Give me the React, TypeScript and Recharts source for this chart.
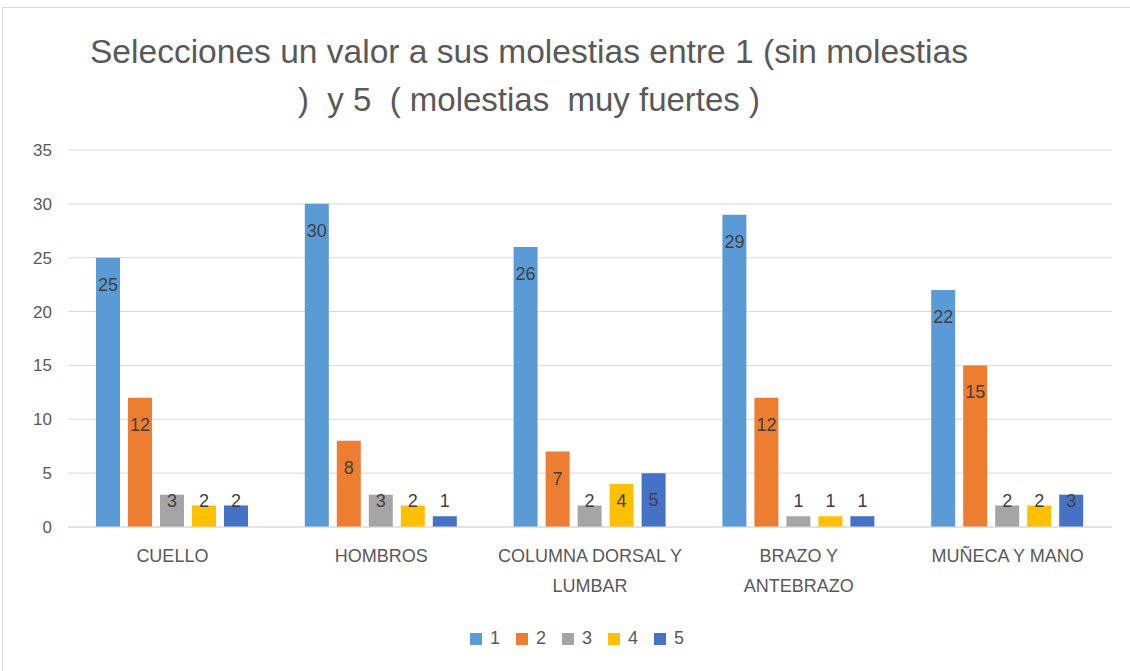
import React from 'react';
import { BarChart, Bar, XAxis, YAxis, CartesianGrid, Legend, LabelList } from 'recharts';

const categories = ['CUELLO', 'HOMBROS', 'COLUMNA DORSAL Y\nLUMBAR', 'BRAZO Y\nANTEBRAZO', 'MUÑECA Y MANO'];
const seriesNames = ['1', '2', '3', '4', '5'];
const seriesColors = ['#5B9BD5', '#ED7D31', '#A5A5A5', '#FFC000', '#4472C4'];
const values1 = [25, 30, 26, 29, 22];
const values2 = [12, 8, 7, 12, 15];
const values3 = [3, 3, 2, 1, 2];
const values4 = [2, 2, 4, 1, 2];
const values5 = [2, 1, 5, 1, 3];
const yTicks = [0, 5, 10, 15, 20, 25, 30, 35];
const titleLines = ['Selecciones un valor a sus molestias entre 1 (sin molestias', ')  y 5  ( molestias  muy fuertes )'];

const allValues = [values1, values2, values3, values4, values5];

const chartData = categories.map((name, i) => {
  const row: Record<string, string | number> = { name };
  seriesNames.forEach((s, j) => {
    row['s' + s] = allValues[j][i];
  });
  return row;
});

const FONT = "'Liberation Sans Narrow', 'Liberation Sans', Arial, sans-serif";

// Excel-like "inside end" label: sits below the bar top, but never lower than near the baseline
const BarValueLabel = (props: any) => {
  const { x, y, width, height, value } = props;
  const bottom = y + height;
  const cy = Math.min(y + 27, bottom - 26);
  return (
    <text
      x={x + width / 2}
      y={cy}
      textAnchor="middle"
      dominantBaseline="central"
      fill="#404040"
      fontSize={18}
      fontFamily={FONT}
    >
      {value}
    </text>
  );
};

const CategoryTick = (props: any) => {
  const { x, y, payload } = props;
  const lines = String(payload.value).split('\n');
  return (
    <g>
      {lines.map((line, i) => (
        <text
          key={i}
          x={x}
          y={y + 27 + i * 30}
          textAnchor="middle"
          fill="#595959"
          fontSize={18}
          fontFamily={FONT}
        >
          {line}
        </text>
      ))}
    </g>
  );
};

const LegendContent = () => (
  <div style={{ display: 'flex', justifyContent: 'center', gap: 16, fontFamily: FONT, fontSize: 18, color: '#595959', marginLeft: 14 }}>
    {seriesNames.map((s, i) => (
      <div key={s} style={{ display: 'flex', alignItems: 'center', gap: 8 }}>
        <span style={{ width: 12, height: 12, background: seriesColors[i], display: 'inline-block' }} />
        <span>{s}</span>
      </div>
    ))}
  </div>
);

export default function App() {
  return (
    <div style={{ position: 'absolute', left: 0, top: 0, width: 1130, height: 671, background: '#fff' }}>
      <div style={{ position: 'absolute', left: 2, top: 7, width: 1140, height: 680, border: '1px solid #d9d9d9' }} />
      <svg width={1130} height={130} style={{ position: 'absolute', left: 0, top: 0 }}>
        <text x={529} y={63} textAnchor="middle" fill="#595959" fontSize={33} fontFamily={FONT}
          textLength={878} lengthAdjust="spacingAndGlyphs" style={{ whiteSpace: 'pre' }}>
          {titleLines[0]}
        </text>
        <text x={529} y={111} textAnchor="middle" fill="#595959" fontSize={33} fontFamily={FONT}
          textLength={462} lengthAdjust="spacingAndGlyphs" style={{ whiteSpace: 'pre' }}>
          {titleLines[1]}
        </text>
      </svg>
      <div style={{ position: 'absolute', left: 0, top: 0 }}>
        <BarChart
          width={1130}
          height={671}
          data={chartData}
          margin={{ top: 150, right: 18, left: 28, bottom: 43 }}
          barSize={24}
          barGap={8}
        >
          <CartesianGrid vertical={false} stroke="#d9d9d9" />
          <XAxis
            dataKey="name"
            interval={0}
            tickLine={false}
            axisLine={{ stroke: '#d9d9d9' }}
            tick={<CategoryTick />}
            height={80}
          />
          <YAxis
            domain={[0, 35]}
            ticks={yTicks}
            width={40}
            tickLine={false}
            axisLine={false}
            tickMargin={10}
            tick={{ fill: '#595959', fontSize: 17, fontFamily: FONT }}
          />
          <Legend verticalAlign="bottom" content={<LegendContent />} wrapperStyle={{ bottom: 22 }} />
          {seriesNames.map((s, i) => (
            <Bar key={s} dataKey={'s' + s} name={s} fill={seriesColors[i]} isAnimationActive={false}>
              <LabelList dataKey={'s' + s} content={<BarValueLabel />} />
            </Bar>
          ))}
        </BarChart>
      </div>
    </div>
  );
}
